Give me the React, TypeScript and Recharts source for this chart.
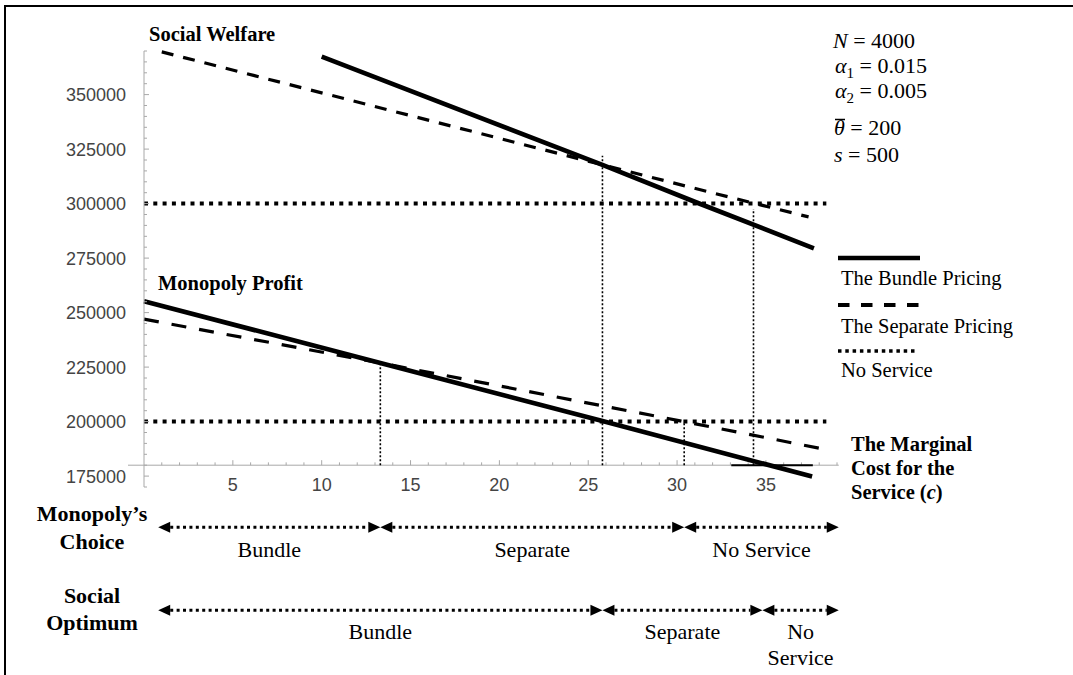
import React from "react";
import { LineChart, Line, XAxis, YAxis, ReferenceLine } from "recharts";

const SERIF = "'Liberation Serif', 'Times New Roman', serif";
const SANS = "'Liberation Sans', Arial, sans-serif";

// c = marginal cost for the service, v = surplus
const bundleWelfare = [
  { c: 10, v: 367400 },
  { c: 25.8, v: 317800 },
  { c: 31.1, v: 300500 },
  { c: 37.7, v: 279500 },
];
const separateWelfare = [
  { c: 1, v: 369600 },
  { c: 25.8, v: 317800 },
  { c: 32, v: 304900 },
  { c: 37.4, v: 293900 },
];
const bundleProfit = [
  { c: 0, v: 255200 },
  { c: 13.3, v: 226900 },
  { c: 25.8, v: 200300 },
  { c: 37.6, v: 174800 },
];
const separateProfit = [
  { c: 0, v: 247000 },
  { c: 13.3, v: 226900 },
  { c: 30.4, v: 200000 },
  { c: 38, v: 187800 },
];
const noServiceWelfare = [
  { c: 0, v: 300000 },
  { c: 38.4, v: 300000 },
];
const noServiceProfit = [
  { c: 0, v: 200000 },
  { c: 38.4, v: 200000 },
];

// switching points (vertical dotted guides)
const thresholds = [
  { c: 13.3, top: 227000 },
  { c: 25.8, top: 322000 },
  { c: 30.4, top: 200000 },
  { c: 34.3, top: 297500 },
];

const monopolyChoice = [
  { label: ["Bundle"], from: 0.8, to: 13.3 },
  { label: ["Separate"], from: 13.3, to: 30.4 },
  { label: ["No Service"], from: 30.4, to: 39.1 },
];
const socialOptimum = [
  { label: ["Bundle"], from: 0.8, to: 25.8 },
  { label: ["Separate"], from: 25.8, to: 34.8 },
  { label: ["No", "Service"], from: 34.8, to: 39.1 },
];

const xTickLabels = [5, 10, 15, 20, 25, 30, 35];
const yTickLabels = [175000, 200000, 225000, 250000, 275000, 300000, 325000, 350000];

const yAllTicks: number[] = [];
for (let v = 170000; v <= 370000; v += 5000) yAllTicks.push(v);
const xMinorTicks: number[] = [];
for (let c = 1; c <= 39; c++) xMinorTicks.push(c);

const AXIS_Y = 180000;
const AXIS_GRAY = "#a8a8a8";

const XTick = (props: any) => {
  const { x, y, payload } = props;
  return (
    <text x={x} y={y + 4} textAnchor="middle" fontSize={18} fill="#444" fontFamily={SANS}>
      {payload.value}
    </text>
  );
};

const YTick = (props: any) => {
  const { x, y, payload } = props;
  const major = yTickLabels.includes(payload.value);
  return (
    <g>
      <line x1={x} x2={x + (major ? 5 : 3)} y1={y} y2={y} stroke={AXIS_GRAY} />
      {major && (
        <text x={x - 18} y={y} dy="0.36em" textAnchor="end" fontSize={18} fill="#444" fontFamily={SANS}>
          {payload.value}
        </text>
      )}
    </g>
  );
};

const ChoiceArrow = ({ x1, x2, y, label, labelDy }: any) => {
  const head = 12;
  const half = 5.5;
  return (
    <g>
      <line x1={x1 + head} x2={x2 - head} y1={y} y2={y} stroke="#000" strokeWidth={3} strokeDasharray="3 3.4" />
      <polygon points={`${x1},${y} ${x1 + head},${y - half} ${x1 + head},${y + half}`} fill="#000" />
      <polygon points={`${x2},${y} ${x2 - head},${y - half} ${x2 - head},${y + half}`} fill="#000" />
      {label.map((t: string, i: number) => (
        <text key={i} x={(x1 + x2) / 2} y={y + labelDy + i * 26} textAnchor="middle" fontSize={22} fontFamily={SERIF}>
          {t}
        </text>
      ))}
    </g>
  );
};

const Overlay = () => (
  <svg width={1073} height={675} style={{ position: "absolute", left: 0, top: 0, pointerEvents: "none" }}>
    <g fontFamily={SERIF} fill="#000">
      <text x={149} y={41} fontSize={20.5} fontWeight="bold">Social Welfare</text>
      <text x={158} y={290} fontSize={20.5} fontWeight="bold">Monopoly Profit</text>

      {/* parameters */}
      <text x={833} y={48} fontSize={22}>
        <tspan fontStyle="italic">N</tspan> = 4000
      </text>
      <text x={835} y={73} fontSize={22}>
        <tspan fontStyle="italic">α</tspan>
        <tspan fontSize={15} dy={5}>1</tspan>
        <tspan dy={-5}> = 0.015</tspan>
      </text>
      <text x={835} y={98} fontSize={22}>
        <tspan fontStyle="italic">α</tspan>
        <tspan fontSize={15} dy={5}>2</tspan>
        <tspan dy={-5}> = 0.005</tspan>
      </text>
      <line x1={835} x2={845} y1={119.5} y2={119.5} stroke="#000" strokeWidth={1.5} />
      <text x={834} y={135} fontSize={22}>
        <tspan fontStyle="italic">θ</tspan> = 200
      </text>
      <text x={834} y={162} fontSize={22}>
        <tspan fontStyle="italic">s</tspan> = 500
      </text>

      {/* legend */}
      <line x1={838} x2={920} y1={258} y2={258} stroke="#000" strokeWidth={4.7} />
      <text x={841} y={285} fontSize={20.5}>The Bundle Pricing</text>
      <line x1={838} x2={920} y1={305} y2={305} stroke="#000" strokeWidth={4} strokeDasharray="11.5 11.5" />
      <text x={841} y={333} fontSize={20.5}>The Separate Pricing</text>
      <line x1={838} x2={918} y1={351} y2={351} stroke="#000" strokeWidth={3.5} strokeDasharray="3.5 3.8" />
      <text x={841} y={377} fontSize={20.5}>No Service</text>

      <text fontSize={20.5} fontWeight="bold">
        <tspan x={851} y={451}>The Marginal</tspan>
        <tspan x={851} y={474.5}>Cost for the</tspan>
        <tspan x={851} y={499}>
          Service (<tspan fontStyle="italic">c</tspan>)
        </tspan>
      </text>

      <text fontSize={22} fontWeight="bold" textAnchor="middle">
        <tspan x={92} y={521}>Monopoly’s</tspan>
        <tspan x={92} y={549}>Choice</tspan>
        <tspan x={92} y={603}>Social</tspan>
        <tspan x={92} y={630}>Optimum</tspan>
      </text>
    </g>
  </svg>
);

export default function App() {
  return (
    <div style={{ position: "absolute", left: 0, top: 0, width: 1073, height: 675, overflow: "hidden", background: "#fff" }}>
      <div
        style={{
          position: "absolute",
          left: 4,
          top: 4.5,
          width: 1200,
          height: 800,
          borderLeft: "2.5px solid #000",
          borderTop: "2.5px solid #000",
        }}
      />
      <LineChart width={1073} height={675} margin={{ top: 51, right: 236, bottom: 168, left: 84 }}>
        <XAxis
          type="number"
          dataKey="c"
          domain={[0, 39]}
          ticks={xTickLabels}
          interval={0}
          axisLine={false}
          tickLine={false}
          tickSize={0}
          tickMargin={0}
          height={20}
          tick={<XTick />}
        />
        <YAxis
          type="number"
          dataKey="v"
          domain={[170000, 370000]}
          ticks={yAllTicks}
          interval={0}
          width={60}
          axisLine={{ stroke: AXIS_GRAY }}
          tickLine={false}
          tickSize={0}
          tickMargin={0}
          tick={<YTick />}
        />

        {/* horizontal axis drawn at 180000 */}
        <ReferenceLine
          segment={[{ x: -0.9, y: AXIS_Y }, { x: 39.1, y: AXIS_Y }]}
          stroke={AXIS_GRAY}
          strokeWidth={1}
          ifOverflow="visible"
        />
        {xMinorTicks.map((c) => (
          <ReferenceLine
            key={`xt${c}`}
            segment={[{ x: c, y: AXIS_Y }, { x: c, y: AXIS_Y + (c % 5 === 0 ? 2300 : 1300) }]}
            stroke={AXIS_GRAY}
            strokeWidth={1}
            ifOverflow="visible"
          />
        ))}
        <ReferenceLine
          segment={[{ x: 33.05, y: AXIS_Y }, { x: 37.64, y: AXIS_Y }]}
          stroke="#000"
          strokeWidth={2}
          ifOverflow="visible"
        />

        {thresholds.map((t) => (
          <ReferenceLine
            key={`th${t.c}`}
            segment={[{ x: t.c, y: AXIS_Y }, { x: t.c, y: t.top }]}
            stroke="#000"
            strokeWidth={1.6}
            strokeDasharray="2 2"
            ifOverflow="visible"
          />
        ))}

        <Line data={noServiceWelfare} dataKey="v" type="linear" stroke="#000" strokeWidth={4} strokeDasharray="4 5.3" dot={false} isAnimationActive={false} />
        <Line data={noServiceProfit} dataKey="v" type="linear" stroke="#000" strokeWidth={4} strokeDasharray="4 5.3" dot={false} isAnimationActive={false} />
        <Line data={separateWelfare} dataKey="v" type="linear" stroke="#000" strokeWidth={3.2} strokeDasharray="12 10" dot={false} isAnimationActive={false} />
        <Line data={separateProfit} dataKey="v" type="linear" stroke="#000" strokeWidth={3.2} strokeDasharray="15 13" dot={false} isAnimationActive={false} />
        <Line data={bundleWelfare} dataKey="v" type="linear" stroke="#000" strokeWidth={4.6} dot={false} isAnimationActive={false} />
        <Line data={bundleProfit} dataKey="v" type="linear" stroke="#000" strokeWidth={4.6} dot={false} isAnimationActive={false} />

        {monopolyChoice.map((s, i) => (
          <ReferenceLine
            key={`mc${i}`}
            segment={[{ x: s.from, y: AXIS_Y }, { x: s.to, y: AXIS_Y }]}
            ifOverflow="visible"
            shape={(p: any) => <ChoiceArrow x1={p.x1} x2={p.x2} y={p.y1 + 62} label={s.label} labelDy={30} />}
          />
        ))}
        {socialOptimum.map((s, i) => (
          <ReferenceLine
            key={`so${i}`}
            segment={[{ x: s.from, y: AXIS_Y }, { x: s.to, y: AXIS_Y }]}
            ifOverflow="visible"
            shape={(p: any) => <ChoiceArrow x1={p.x1} x2={p.x2} y={p.y1 + 145} label={s.label} labelDy={29} />}
          />
        ))}
      </LineChart>
      <Overlay />
    </div>
  );
}
